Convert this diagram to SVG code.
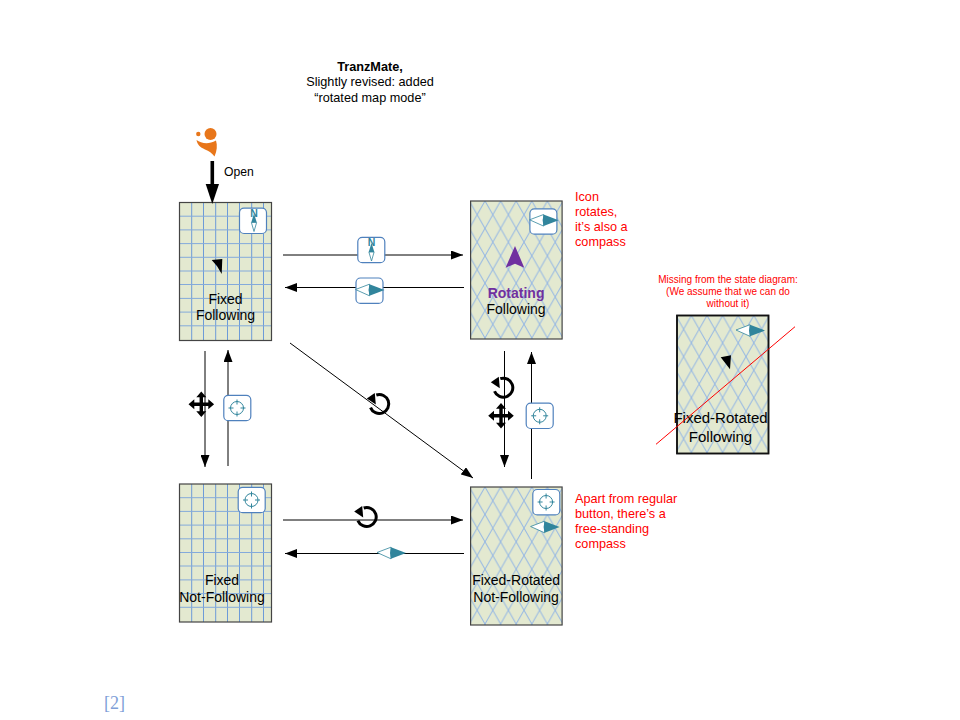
<svg xmlns="http://www.w3.org/2000/svg" xmlns:xlink="http://www.w3.org/1999/xlink" width="960" height="720" viewBox="0 0 960 720">
<style>
text{font-family:"Liberation Sans",Arial,sans-serif;font-size:14px;fill:#000;text-anchor:middle}
.red{fill:#f00;font-size:12.7px;text-anchor:start}
.small{fill:#f00;font-size:10px}
.title{font-size:12.7px}
.frame{fill:none;stroke:#444;stroke-width:1.2}
.bg{fill:#e3e9d0}
.btn{fill:#fff;stroke:#4f81bd;stroke-width:1.2}
.con{stroke:#000;stroke-width:1;fill:none}
.gv{stroke:#6d9bd8;stroke-width:1;fill:none}
.gh{stroke:#84aadb;stroke-width:1;fill:none}
.teal{fill:#31859c}
.tealo{fill:#fff;stroke:#31859c;stroke-width:.8}
.tgt{fill:none;stroke:#31859c;stroke-width:1}
.rot{fill:none;stroke:#000;stroke-width:3}
</style>
<defs>
<marker id="ah" markerUnits="userSpaceOnUse" markerWidth="12" markerHeight="9" refX="12" refY="4.5" orient="auto"><path d="M0,0L12,4.5L0,9Z" fill="#000"/></marker>
<pattern id="lat" patternUnits="userSpaceOnUse" x="14.4" y="0" width="15.6" height="27.4"><path d="M0,0L15.6,27.4M15.6,0L0,27.4" stroke="#93b6e4" stroke-width="1" fill="none"/></pattern>
<g id="grid">
<rect class="bg" width="92" height="138"/>
<path class="gv" d="M12.2,0V138M24,0V138M36.2,0V138M48,0V138M60,0V138M72.2,0V138M84,0V138"/>
<path class="gh" d="M0,13.7H92M0,27.4H92M0,41.1H92M0,54.8H92M0,68.5H92M0,82H92M0,95.9H92M0,109.6H92M0,123.3H92"/>
<rect class="frame" width="92" height="138"/>
</g>
<g id="lattice">
<rect class="bg" width="91.5" height="138"/>
<rect fill="url(#lat)" width="91.5" height="138"/>
<rect class="frame" width="91.5" height="138"/>
</g>
<g id="cH">
<path class="tealo" d="M0,-5.8L-14,-.5L0,5.8Z"/>
<path class="teal" d="M0,-5.8L15,0L0,5.8L-1,0Z"/>
</g>
<g id="cN">
<path class="teal" d="M0,-9L-2.8,0L2.8,0Z"/>
<path class="tealo" d="M-2.6,0L0,9L2.6,0Z"/>
<text x="0" y="-6" style="font-size:10.5px;font-weight:bold;fill:#31859c">N</text>
</g>
<g id="target">
<circle class="tgt" r="6.5"/>
<path class="tgt" d="M0,-8.5V-3.5M0,3.5V8.5M-8.5,0H-3.5M3.5,0H8.5"/>
</g>
<rect id="btn" class="btn" x="-13.5" y="-12.7" width="27" height="25.4" rx="4.5"/>
<g id="rotate">
<path class="rot" d="M-3,-9A9.5,9.5 0 1 1 -8.8,3.6"/>
<path d="M-4.5,-11L-3.5,0.5L-12.5,-5.5Z" fill="#000"/>
</g>
<g id="move">
<path d="M0,-9V9M-9,0H9" stroke="#000" stroke-width="3.4" fill="none"/>
<path d="M0,-12.8L5,-7H-5ZM0,12.8L5,7H-5ZM-12.8,0L-7,5V-5ZM12.8,0L7,5V-5Z" fill="#000"/>
</g>
</defs>

<g id="title">
<text class="title" x="370" y="71" style="font-weight:bold">TranzMate,</text>
<text class="title" x="370" y="86">Slightly revised: added</text>
<text class="title" x="370" y="102">“rotated map mode”</text>
</g>

<g id="node-start">
<circle cx="210.5" cy="134" r="6" fill="#e8761a"/>
<circle cx="198.3" cy="134" r="2.2" fill="#e8761a"/>
<path d="M196.5,140C201,143 208,145 216,140.5C217.5,145 217,151 214.5,156.5C212,153 209,151 205,149.5C200,147 197.5,145 196.5,140Z" fill="#e8761a"/>
</g>

<g id="node-fixed-following" transform="translate(179.5,202.5)">
<use href="#grid"/>
<use href="#btn" x="73.5" y="18.3"/>
<use href="#cN" x="74.5" y="20"/>
<path d="M32.2,57.5L42.8,56.5L42.2,71.5L37.6,63.8Z" fill="#000"/>
<text x="46" y="101.5">Fixed</text>
<text x="46" y="117.5">Following</text>
</g>

<g id="node-rotating-following" transform="translate(470.6,201)">
<use href="#lattice"/>
<use href="#btn" x="72.8" y="20.5"/>
<use href="#cH" x="73" y="19.3"/>
<path d="M44.4,45L35,66.7L44.4,62.7L53.7,66.7Z" fill="#7030a0"/>
<text x="45.5" y="96.5" style="font-weight:bold;fill:#7030a0">Rotating</text>
<text x="45.5" y="113">Following</text>
</g>

<g id="node-fixed-not-following" transform="translate(179.5,484)">
<use href="#grid"/>
<use href="#btn" x="72.2" y="16"/>
<use href="#target" x="72" y="16"/>
<text x="42.5" y="101">Fixed</text>
<text x="42.5" y="118">Not-Following</text>
</g>

<g id="node-fixed-rotated-not-following" transform="translate(470.6,487)">
<use href="#lattice"/>
<use href="#btn" x="75.7" y="15.2"/>
<use href="#target" x="75.5" y="15"/>
<use href="#cH" x="74" y="40"/>
<text x="45.5" y="98">Fixed-Rotated</text>
<text x="45.5" y="114.7">Not-Following</text>
</g>

<g id="node-fixed-rotated-following" transform="translate(677,315.5)">
<use href="#lattice"/>
<rect width="91.5" height="138" fill="none" stroke="#111" stroke-width="1.8"/>
<use href="#cH" x="73" y="15"/>
<path d="M43.7,41.8L54,39.8L53,53.8L47.8,47Z" fill="#000"/>
<text x="43.5" y="107.5" style="font-size:15px">Fixed-Rotated</text>
<text x="43.5" y="126.5" style="font-size:15px">Following</text>
</g>

<g id="connectors">
<path class="con" marker-end="url(#ah)" d="M283,255H463"/>
<path class="con" marker-end="url(#ah)" d="M464,287.5H285"/>
<path class="con" marker-end="url(#ah)" d="M205,351V467"/>
<path class="con" marker-end="url(#ah)" d="M228,466V350"/>
<path class="con" marker-end="url(#ah)" d="M290,343L473,478"/>
<path class="con" marker-end="url(#ah)" d="M283,520H463"/>
<path class="con" marker-end="url(#ah)" d="M464,553.5H285"/>
<path class="con" marker-end="url(#ah)" d="M504.5,351V467"/>
<path class="con" marker-end="url(#ah)" d="M531.5,479V352"/>
<path d="M212.3,161V185" stroke="#000" stroke-width="3.6" fill="none"/>
<path d="M205.7,184H219L212.3,204Z" fill="#000"/>
</g>

<g id="edge-icons">
<use href="#btn" x="371.3" y="250"/>
<use href="#cN" x="371.5" y="252"/>
<use href="#btn" x="369.5" y="290.7"/>
<use href="#cH" x="369.5" y="290"/>
<use href="#rotate" x="379.3" y="404"/>
<use href="#rotate" x="366.7" y="517"/>
<use href="#rotate" x="503.3" y="387.7"/>
<use href="#move" x="201.3" y="404.3"/>
<use href="#move" x="501" y="415.7"/>
<use href="#btn" x="237.3" y="408"/>
<use href="#target" x="237" y="408"/>
<use href="#btn" x="539.7" y="415.8"/>
<use href="#target" x="539.7" y="415.8"/>
<use href="#cH" x="391" y="553"/>
</g>

<g id="notes">
<text class="red" x="575" y="200.5">Icon</text>
<text class="red" x="575" y="216">rotates,</text>
<text class="red" x="575" y="231">it’s also a</text>
<text class="red" x="575" y="246">compass</text>
<text class="red" x="575" y="503">Apart from regular</text>
<text class="red" x="575" y="518">button, there’s a</text>
<text class="red" x="575" y="533">free-standing</text>
<text class="red" x="575" y="548">compass</text>
<text class="small" x="728" y="283">Missing from the state diagram:</text>
<text class="small" x="728" y="295">(We assume that we can do</text>
<text class="small" x="728" y="307">without it)</text>
<path d="M656,444.3L795,326.7" stroke="#f00" stroke-width="1" fill="none"/>
</g>

<text x="114.5" y="709" style="font-family:'Liberation Serif',serif;font-size:18px;fill:#7f9fd8">[2]</text>
<text x="239" y="176" style="font-size:12.2px">Open</text>
</svg>
